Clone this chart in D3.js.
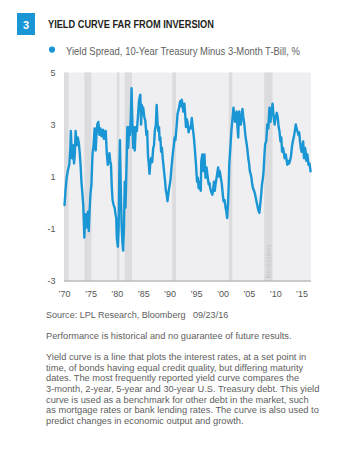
<!DOCTYPE html>
<html>
<head>
<meta charset="utf-8">
<script src="https://cdn.jsdelivr.net/npm/d3@7"></script>
<style>
  html, body { margin: 0; padding: 0; background: #fff; }
  svg { display: block; }
</style>
</head>
<body>
<svg id="chart" width="339" height="467"></svg>
<script>
// Yield spread, 10-year Treasury minus 3-month T-bill (%), by decimal year
const years = [
  1970.1,1970.3,1970.5,1970.8,1971.0,1971.2,1971.3,1971.5,1971.7,1971.9,
  1972.05,1972.2,1972.4,1972.6,1972.8,1973.0,1973.15,1973.3,1973.5,1973.65,
  1973.85,1974.0,1974.1,1974.3,1974.45,1974.55,1974.7,1974.85,1975.0,1975.2,
  1975.4,1975.6,1975.8,1976.0,1976.15,1976.3,1976.5,1976.7,1976.9,1977.1,
  1977.25,1977.4,1977.55,1977.7,1977.9,1978.1,1978.3,1978.45,1978.6,1978.75,
  1978.9,1979.05,1979.2,1979.4,1979.6,1979.75,1979.9,1980.0,1980.2,1980.35,
  1980.5,1980.6,1980.75,1980.9,1981.05,1981.2,1981.35,1981.5,1981.65,1981.85,
  1982.0,1982.15,1982.35,1982.5,1982.65,1982.8,1982.9,1983.0,1983.1,1983.25,
  1983.4,1983.6,1983.8,1984.0,1984.2,1984.45,1984.6,1984.75,1984.9,1985.0,
  1985.2,1985.4,1985.6,1985.75,1985.9,1986.05,1986.2,1986.35,1986.5,1986.7,
  1986.9,1987.05,1987.2,1987.4,1987.55,1987.7,1987.85,1988.0,1988.1,1988.25,
  1988.4,1988.55,1988.7,1988.85,1989.0,1989.15,1989.3,1989.45,1989.6,1989.75,
  1989.9,1990.05,1990.2,1990.4,1990.6,1990.8,1990.95,1991.1,1991.25,1991.4,
  1991.5,1991.75,1992.0,1992.15,1992.3,1992.45,1992.6,1992.8,1992.95,1993.1,
  1993.25,1993.4,1993.6,1993.8,1994.0,1994.2,1994.4,1994.6,1994.8,1995.0,
  1995.2,1995.35,1995.5,1995.7,1995.9,1996.0,1996.2,1996.4,1996.6,1996.8,
  1997.0,1997.2,1997.4,1997.55,1997.7,1997.9,1998.1,1998.25,1998.4,1998.55,
  1998.7,1998.9,1999.2,1999.35,1999.5,1999.7,1999.9,2000.05,2000.2,2000.4,
  2000.6,2000.75,2000.9,2001.05,2001.2,2001.3,2001.5,2001.7,2001.9,2002.1,
  2002.25,2002.4,2002.55,2002.7,2002.85,2003.0,2003.1,2003.2,2003.35,2003.5,
  2003.65,2003.8,2003.95,2004.1,2004.25,2004.4,2004.6,2004.75,2004.9,2005.05,
  2005.2,2005.35,2005.5,2005.65,2005.8,2006.0,2006.15,2006.3,2006.45,2006.6,
  2006.75,2006.9,2007.0,2007.15,2007.3,2007.5,2007.65,2007.8,2007.95,2008.1,
  2008.3,2008.5,2008.7,2008.9,2009.0,2009.1,2009.3,2009.5,2009.7,2009.9,
  2010.1,2010.3,2010.5,2010.65,2010.8,2011.0,2011.15,2011.3,2011.5,2011.65,
  2011.8,2012.0,2012.15,2012.3,2012.5,2012.65,2012.8,2013.0,2013.2,2013.4,
  2013.6,2013.75,2013.9,2014.05,2014.2,2014.4,2014.55,2014.7,2014.85,2015.0,
  2015.15,2015.3,2015.45,2015.65,2015.8,2015.9,2016.1,2016.3,2016.5,2016.7
];
const spread = [
  -0.1,0.5,0.95,1.3,1.45,2.1,2.75,1.7,2.2,1.5,
  1.9,2.75,2.2,2.5,2.3,1.85,1.4,0.8,0.3,-0.1,
  -1.35,-0.6,-0.45,-0.95,-0.5,-0.35,-1.1,-0.3,0.3,0.7,
  1.85,2.2,2.85,2.0,2.6,3.0,3.1,2.6,2.85,2.55,
  2.75,2.8,2.45,2.5,2.75,1.9,1.45,1.6,1.9,1.6,
  1.45,0.6,0.1,-0.1,-0.2,-0.45,-0.6,-1.35,-1.7,-1.0,
  1.5,2.4,0.6,-0.8,-1.5,-1.85,-1.0,0.8,-0.2,1.5,
  2.9,2.1,2.9,2.6,3.3,4.4,3.5,2.75,2.1,2.9,
  2.0,2.9,2.75,3.3,3.9,4.15,3.0,3.75,3.4,3.65,
  3.3,3.15,2.6,2.75,1.85,1.5,1.1,1.5,1.7,1.55,
  2.1,2.2,2.75,3.0,3.75,3.1,2.75,2.9,2.4,2.5,
  1.95,2.1,1.7,1.4,1.1,0.8,0.45,0.3,0.05,0.3,
  0.55,0.7,0.95,1.45,1.85,2.2,2.5,2.4,2.75,3.1,
  3.4,3.6,3.9,3.7,3.95,3.75,3.5,3.8,3.4,2.9,
  3.2,3.1,2.7,2.9,2.85,3.25,2.85,2.5,2.0,1.45,
  0.8,0.95,0.55,0.8,0.45,1.6,1.85,1.2,1.85,0.95,
  1.35,1.0,0.7,0.75,0.55,0.4,0.3,0.5,0.8,0.45,
  0.7,0.95,1.35,1.0,1.2,0.95,0.7,0.35,0.05,0.1,
  -0.2,-0.35,-0.6,-0.1,0.7,1.45,2.1,2.75,3.2,3.65,
  3.3,3.1,3.4,3.5,2.9,2.5,3.2,3.5,3.0,3.0,
  3.3,3.6,3.3,3.1,2.8,2.5,2.25,2.0,1.7,1.5,
  1.2,1.1,0.95,0.7,0.55,0.45,0.35,0.2,0.05,-0.1,
  -0.25,-0.35,-0.4,-0.1,0.2,0.7,0.9,1.2,1.8,2.25,
  2.35,3.0,2.85,3.65,3.3,3.1,3.5,3.8,3.3,3.0,
  3.3,3.45,3.25,2.9,2.75,2.35,2.5,1.95,2.1,1.9,
  1.7,1.85,1.65,1.45,1.6,1.5,1.6,1.8,2.2,2.4,
  2.6,2.8,3.0,2.85,2.75,2.6,2.7,2.35,2.1,1.95,
  2.1,2.35,1.7,2.1,1.9,1.6,1.85,1.45,1.5,1.2
];

// Recession periods (decimal years)
const recessionStart = [1969.92, 1973.87, 1980.0, 1981.5, 1990.5, 2001.2, 2007.92];
const recessionEnd   = [1970.87, 1975.2, 1980.5, 1982.87, 1991.2, 2001.87, 2009.5];

const yTicks = [5, 3, 1, -1, -3];
const xTickYears = [1970, 1975, 1980, 1985, 1990, 1995, 2000, 2005, 2010, 2015];
const xTickLabels = ["’70", "’75", "’80", "’85", "’90", "’95", "’00", "’05", "’10", "’15"];

const chartNumber = "3";
const titleText = "YIELD CURVE FAR FROM INVERSION";
const legendText = "Yield Spread, 10-Year Treasury Minus 3-Month T-Bill, %";
const recessionLabel = "Recessions";
const sourceText = "Source: LPL Research, Bloomberg\u00a0\u00a0\u00a009/23/16";
const disclaimerText = "Performance is historical and no guarantee of future results.";
const bodyLines = [
  "Yield curve is a line that plots the interest rates, at a set point in",
  "time, of bonds having equal credit quality, but differing maturity",
  "dates. The most frequently reported yield curve compares the",
  "3-month, 2-year, 5-year and 30-year U.S. Treasury debt. This yield",
  "curve is used as a benchmark for other debt in the market, such",
  "as mortgage rates or bank lending rates. The curve is also used to",
  "predict changes in economic output and growth."
];

// ---- styling ----
const BLUE = "#1a96d4";
const FONT = "'Liberation Sans Narrow','Arial Narrow','Liberation Sans',Arial,sans-serif";

const svg = d3.select("#chart");

const plot = { left: 64, right: 311, top: 72.5, bottom: 280.5 };

const x = d3.scaleLinear().domain([1970, 2016.78]).range([plot.left, plot.right]);
const y = d3.scaleLinear().domain([-3, 5]).range([plot.bottom, plot.top]);

// Horizontally condense a text block to a target width
function fitGroup(g, textSel, target) {
  const w = textSel.node().getComputedTextLength();
  const k = w > 0 ? target / w : 1;
  const tr = g.attr("data-x");
  g.attr("transform", `translate(${tr},0) scale(${k},1)`);
}

// ---- header ----
svg.append("rect")
  .attr("x", 17).attr("y", 13).attr("width", 18).attr("height", 22)
  .attr("fill", BLUE);
svg.append("text")
  .attr("x", 26).attr("y", 28.5)
  .attr("text-anchor", "middle")
  .attr("font-family", FONT).attr("font-weight", "bold").attr("font-size", 11)
  .attr("fill", "#fff")
  .text(chartNumber);

const titleG = svg.append("g").attr("data-x", 48);
const titleT = titleG.append("text")
  .attr("x", 0).attr("y", 28.4)
  .attr("font-family", FONT).attr("font-weight", "bold").attr("font-size", 10.2)
  .attr("fill", "#231f20")
  .text(titleText);
fitGroup(titleG, titleT, 166);

// ---- legend ----
svg.append("circle").attr("cx", 52).attr("cy", 49.6).attr("r", 3.1).attr("fill", BLUE);
const legG = svg.append("g").attr("data-x", 66);
const legT = legG.append("text")
  .attr("x", 0).attr("y", 55)
  .attr("font-family", FONT).attr("font-size", 10)
  .attr("fill", "#5f5f5f")
  .text(legendText);
fitGroup(legG, legT, 234);

// ---- plot background and recession bands ----
svg.append("rect")
  .attr("x", plot.left).attr("y", plot.top)
  .attr("width", plot.right - plot.left).attr("height", plot.bottom - plot.top)
  .attr("fill", "#efeff1");

const bands = recessionStart.map((s, i) => ({ s, e: recessionEnd[i] }));
svg.append("g").selectAll("rect")
  .data(bands).join("rect")
  .attr("x", d => Math.max(plot.left, x(d.s)))
  .attr("width", d => x(d.e) - Math.max(plot.left, x(d.s)))
  .attr("y", plot.top)
  .attr("height", plot.bottom - plot.top)
  .attr("fill", "#dcdcde");

// label inside the most recent recession band
const lastBand = bands[bands.length - 1];
svg.append("text")
  .attr("transform", `translate(${(x(lastBand.s) + x(lastBand.e)) / 2 + 2.3},${plot.bottom - 2}) rotate(-90)`)
  .attr("font-family", FONT).attr("font-size", 6.6)
  .attr("fill", "#c4c4c6")
  .text(recessionLabel);

// ---- axes ----
const yAxis = d3.axisLeft(y).tickValues(yTicks).tickSize(0).tickPadding(0)
  .tickFormat(d => String(d));
const yG = svg.append("g").attr("transform", "translate(55.5,0)").call(yAxis);
yG.select(".domain").remove();
yG.selectAll("text")
  .attr("font-family", FONT).attr("font-size", 9).attr("fill", "#555")
  .attr("dy", "0.34em");

const xAxis = d3.axisBottom(x).tickValues(xTickYears).tickSize(0).tickPadding(0)
  .tickFormat((d, i) => xTickLabels[i]);
const xG = svg.append("g").attr("transform", `translate(0,${plot.bottom})`).call(xAxis);
xG.select(".domain")
  .attr("d", `M${plot.left},0.5H${plot.right}`)
  .attr("stroke", "#9a9a9a").attr("stroke-width", 1);
xG.selectAll("text")
  .attr("font-family", FONT).attr("font-size", 9).attr("fill", "#555")
  .attr("dy", 0).attr("y", 16);

// ---- spread line ----
const series = years.map((t, i) => ({ t, v: spread[i] }));
const line = d3.line().x(d => x(d.t)).y(d => y(d.v));
svg.append("path")
  .datum(series)
  .attr("d", line)
  .attr("fill", "none")
  .attr("stroke", BLUE)
  .attr("stroke-width", 2.4)
  .attr("stroke-linejoin", "round")
  .attr("stroke-linecap", "round");

// ---- footnotes ----
const srcG = svg.append("g").attr("data-x", 46);
const srcT = srcG.append("text")
  .attr("x", 0).attr("y", 318.5)
  .attr("font-family", FONT).attr("font-size", 9.4).attr("fill", "#606060")
  .text(sourceText);
fitGroup(srcG, srcT, 182);

const discG = svg.append("g").attr("data-x", 46);
const discT = discG.append("text")
  .attr("x", 0).attr("y", 339)
  .attr("font-family", FONT).attr("font-size", 9.4).attr("fill", "#606060")
  .text(disclaimerText);
fitGroup(discG, discT, 245);

const bodyG = svg.append("g").attr("data-x", 46);
const bodyT = bodyG.selectAll("text")
  .data(bodyLines).join("text")
  .attr("x", 0)
  .attr("y", (d, i) => 360 + i * 10.63)
  .attr("font-family", FONT).attr("font-size", 9.4).attr("fill", "#606060")
  .text(d => d);
fitGroup(bodyG, bodyT.filter((d, i) => i === 0), 260);
</script>
</body>
</html>
